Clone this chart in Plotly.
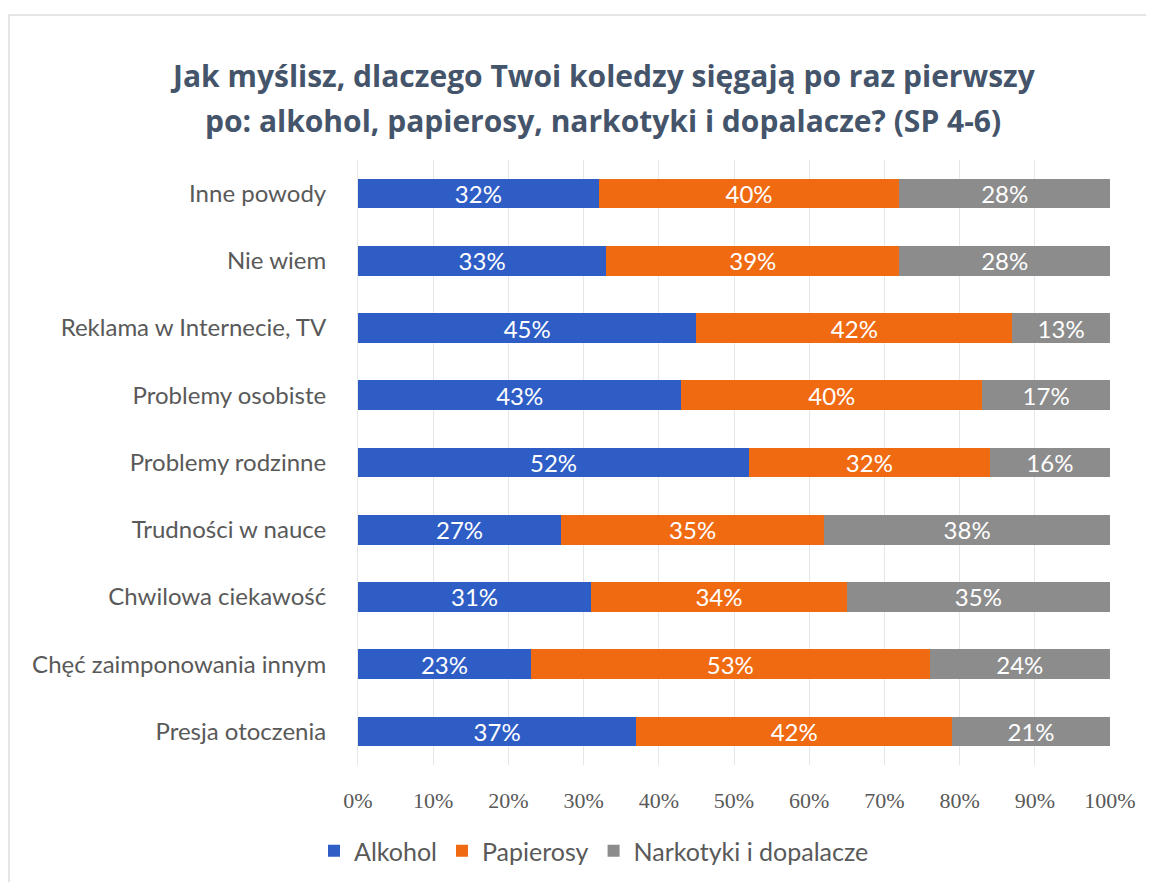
import plotly.graph_objects as go

categories = ["Presja otoczenia", "Chęć zaimponowania innym", "Chwilowa ciekawość",
              "Trudności w nauce", "Problemy rodzinne", "Problemy osobiste",
              "Reklama w Internecie, TV", "Nie wiem", "Inne powody"]
alkohol = [37, 23, 31, 27, 52, 43, 45, 33, 32]
papierosy = [42, 53, 34, 35, 32, 40, 42, 39, 40]
narkotyki = [21, 24, 35, 38, 16, 17, 13, 28, 28]
tick_vals = [0, 10, 20, 30, 40, 50, 60, 70, 80, 90, 100]
tick_text = [f"{v}%" for v in tick_vals]

series = [("Alkohol", alkohol, "#2E5DC6"),
          ("Papierosy", papierosy, "#F06A12"),
          ("Narkotyki i dopalacze", narkotyki, "#8C8C8C")]

fig = go.Figure()
for name, vals, color in series:
    fig.add_trace(go.Bar(
        y=categories, x=vals, name=name, orientation="h",
        marker=dict(color=color, line=dict(width=0)),
        text=[f"{v}%" for v in vals], textposition="inside",
        insidetextanchor="middle", constraintext="none",
        textfont=dict(color="white", size=24, family="Lato"),
    ))

OFF = 8  # default page body margin
W, H = 1154 - OFF, 882 - OFF
L, R, T, B = 358 - OFF, 44, 160 - OFF, 117
pw, ph = W - L - R, H - T - B

def px_x(px):
    return (px - OFF - L) / pw

def px_y(py):
    return 1 - (py - OFF - T) / ph

fig.update_layout(
    width=W, height=H,
    barmode="stack", bargap=0.56,
    plot_bgcolor="white", paper_bgcolor="white",
    margin=dict(l=L, r=R, t=T, b=B, autoexpand=False),
    font=dict(family="Lato", color="#595959"),
    uniformtext=dict(mode=False),
    xaxis=dict(range=[0, 100], tickvals=tick_vals, ticktext=tick_text,
               showgrid=True, gridcolor="#E6E6E6", gridwidth=1,
               zeroline=False, showline=False,
               tickfont=dict(size=22, family="Liberation Serif", color="#595959"),
               ticks="", ticklabelstandoff=20),
    yaxis=dict(showgrid=False, zeroline=False, showline=True, linecolor="#E6E6E6",
               tickfont=dict(size=24, color="#595959", family="Lato"),
               ticks="", ticklabelstandoff=26),
    legend=dict(orientation="h", x=px_x(594), xanchor="center",
                y=px_y(851), yanchor="middle",
                font=dict(size=25, color="#595959", family="Lato"),
                traceorder="normal"),
    showlegend=True,
)

title_lines = ["Jak myślisz, dlaczego Twoi koledzy sięgają po raz pierwszy",
               "po: alkohol, papierosy, narkotyki i dopalacze? (SP 4-6)"]
for line, ypx in zip(title_lines, [75, 120]):
    fig.add_annotation(text=f"<b>{line}</b>", xref="paper", yref="paper",
                       x=px_x(603), y=px_y(ypx), xanchor="center", yanchor="middle",
                       showarrow=False,
                       font=dict(size=30, color="#44546A", family="Open Sans"))

fig.add_shape(type="rect", xref="paper", yref="paper",
              x0=px_x(9), x1=px_x(1160),
              y0=px_y(900), y1=px_y(15),
              line=dict(color="#DDDDDD", width=1.5), layer="below")

fig.write_html("out.html")
